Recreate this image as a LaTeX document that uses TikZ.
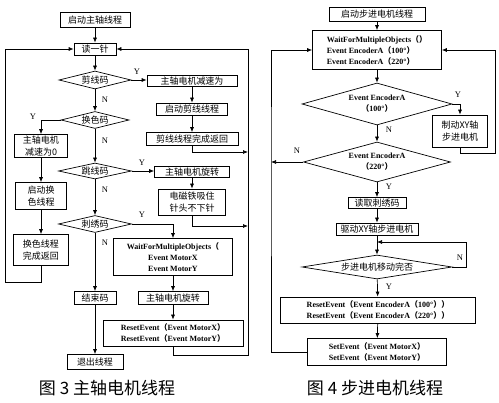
\documentclass[tikz,border=0pt]{standalone}
\usepackage{fontspec}
\setmainfont{Liberation Serif}
\newfontfamily\cjk{Noto Sans CJK SC}
\usetikzlibrary{arrows.meta,shapes.geometric}

% full-width brackets
\newcommand{\zl}{{\cjk （}}
\newcommand{\zr}{{\cjk ）}}

\begin{document}
\begin{tikzpicture}[
      x=1pt, y=-1pt,
      >={Latex[length=5pt,width=4pt]},
      every path/.style={line width=0.7pt},
      box/.style={
          rectangle, draw, align=center,
          inner sep=1pt,
          font=\cjk\fontsize{9}{12}\selectfont
        },
      ebox/.style={box, font=\bfseries\fontsize{8}{11}\selectfont},
      dec/.style={
          diamond, draw, align=center,
          inner sep=0pt,
          font=\cjk\fontsize{9}{11}\selectfont
        },
      edec/.style={dec, font=\bfseries\fontsize{8}{11}\selectfont},
      lbl/.style={font=\fontsize{8.5}{8.5}\selectfont, inner sep=1pt},
      captext/.style={font=\cjk\fontsize{17}{17}\selectfont},
    ]
    \useasboundingbox (0,0) rectangle (499,403);

    % spindle motor thread
    \node[box, minimum width=70, minimum height=15] (qd) at (95,20) {启动主轴线程};
    \node[box, minimum width=42, minimum height=12] (dyz) at (95,49) {读一针};
    \node[dec, aspect=4, minimum width=72, minimum height=18] (jx) at (95,80) {剪线码};
    \node[box, minimum width=90, minimum height=11] (jxa) at (192,81) {主轴电机减速为};
    \node[box, minimum width=71, minimum height=12] (jxb) at (192,109) {启动剪线线程};
    \node[box, minimum width=92, minimum height=13] (jxc) at (192,139) {剪线线程完成返回};
    \node[dec, aspect=4, minimum width=68, minimum height=17] (hs) at (95,120) {换色码};
    \node[box, minimum width=53, minimum height=23] (hsa) at (41,146) {主轴电机\\减速为0};
    \node[box, minimum width=51, minimum height=27] (hsb) at (41,196) {启动换\\色线程};
    \node[box, minimum width=55, minimum height=31] (hsc) at (41,250) {换色线程\\完成返回};
    \node[dec, aspect=4.5, minimum width=73, minimum height=16] (tx) at (95,171) {跳线码};
    \node[box, minimum width=75, minimum height=11] (txa) at (192,172) {主轴电机旋转};
    \node[box, minimum width=67, minimum height=26] (txb) at (192,202) {电磁铁吸住\\针头不下针};
    \node[dec, aspect=4.3, minimum width=73, minimum height=17] (cx) at (95,224) {刺绣码};
    \node[ebox, minimum width=119, minimum height=37] (wa) at (173,257)
      {WaitForMultipleObjects\zl\\Event MotorX\\Event MotorY};
    \node[box, minimum width=70, minimum height=13] (wb) at (173,298) {主轴电机旋转};
    \node[ebox, minimum width=140, minimum height=26] (wc) at (173,333)
      {ResetEvent\zl Event MotorX\zr\\ResetEvent\zl Event MotorY\zr};
    \node[box, minimum width=42, minimum height=13] (js) at (95,298) {结束码};
    \node[box, minimum width=56, minimum height=15] (tc) at (95,362) {退出线程};
    \node[captext] (capa) at (107,388) {图 3 主轴电机线程};

    \coordinate (ra) at (248,152);
    \coordinate (rc) at (248,226);
    \coordinate (rb) at (248,355);
    \coordinate (lb) at (5,282);

    \draw[->] (qd) -- (dyz);
    \draw[->] (dyz) -- (jx);
    \draw[->] (jx) -- (jx -| jxa.west);
    \draw[->] (jxa) -- (jxb);
    \draw[->] (jxb) -- (jxc);
    \draw[->] (jxc.south) |- (ra);
    \draw[->] (jx) -- (hs);
    \draw[->] (hs.west) -| (hsa.north);
    \draw[->] (hsa) -- (hsb);
    \draw[->] (hsb) -- (hsc);
    \draw[->] (hsc.south) |- (lb) |- (dyz.west);
    \draw[->] (hs) -- (tx);
    \draw[->] (tx) -- (tx -| txa.west);
    \draw[->] (txa) -- (txb);
    \draw[->] (txb.south) |- (rc);
    \draw[->] (tx) -- (cx);
    \draw[->] (cx.east) -| (wa.north);
    \draw[->] (wa) -- (wb);
    \draw[->] (wb) -- (wc);
    \draw[->] (wc.south) |- (rb) |- (dyz.east);
    \draw[->] (cx) -- (js);
    \draw[->] (js) -- (tc);

    \node[lbl] (ya) at (137,72) {Y};
    \node[lbl] (na) at (105,100) {N};
    \node[lbl] (yb) at (33,117) {Y};
    \node[lbl] (nb) at (105,141) {N};
    \node[lbl] (yc) at (142,163) {Y};
    \node[lbl] (nc) at (105,190) {N};
    \node[lbl] (yd) at (142,215) {Y};
    \node[lbl] (nd) at (105,243) {N};

    % stepper motor thread
    \node[box, minimum width=96, minimum height=14] (qb) at (377,14) {启动步进电机线程};
    \node[ebox, align=left, minimum width=129, minimum height=39] (wm) at (377,50)
      {WaitForMultipleObjects\zl\zr\\Event EncoderA\zl 100°\zr\\Event EncoderA\zl 220°\zr};
    \node[edec, aspect=3.6, minimum width=150, minimum height=42] (ea) at (377,104)
      {Event EncoderA\\\zl 100°\zr};
    \node[box, minimum width=55, minimum height=32] (zd) at (460,131) {制动XY轴\\步进电机};
    \node[edec, aspect=3.7, minimum width=147, minimum height=40] (eb) at (377,162)
      {Event EncoderA\\\zl 220°\zr};
    \node[box, minimum width=58, minimum height=11] (dq) at (377,203) {读取刺绣码};
    \node[box, minimum width=82, minimum height=12] (qdxy) at (377,229) {驱动XY轴步进电机};
    \node[dec, aspect=6, minimum width=150, minimum height=24] (ydw) at (377,267) {步进电机移动完否};
    \node[ebox, minimum width=195, minimum height=26] (re) at (378,310)
      {ResetEvent\zl Event EncoderA\zl 100°\zr\zr\\ResetEvent\zl Event EncoderA\zl 220°\zr\zr};
    \node[ebox, minimum width=139, minimum height=27] (se) at (377,352)
      {SetEvent\zl Event MotorX\zr\\SetEvent\zl Event MotorY\zr};
    \node[captext] (capb) at (375,388) {图 4 步进电机线程};

    \coordinate (sr) at (495,153);
    \coordinate (sl) at (271,162);
    \coordinate (sh) at (377,242);
    \coordinate (sn) at (466,242);

    \draw[->] (qb) -- (wm);
    \draw[->] (wm) -- (ea);
    \draw[->] (ea.east) -| (zd.north);
    \draw[->] (zd.south) |- (sr) |- (wm.east);
    \draw[->] (ea) -- (eb);
    \draw[->] (eb.west) -- (sl);
    \draw[->] (eb) -- (dq);
    \draw[->] (dq) -- (qdxy);
    \draw[->] (qdxy) -- (ydw);
    \draw[->] (ydw.east) -| (sn) -- (sh);
    \draw[->] (ydw) -- (re);
    \draw[->] (re) -- (se);
    \draw[->] (se.west) -| (sl) |- (wm.west);

    \node[lbl] (ye) at (458,95) {Y};
    \node[lbl] (ne) at (389,130) {N};
    \node[lbl] (nf) at (297,151) {N};
    \node[lbl] (yf) at (389,187) {Y};
    \node[lbl] (ng) at (460,258) {N};
    \node[lbl] (yg) at (389,287) {Y};
  \end{tikzpicture}
\end{document}
